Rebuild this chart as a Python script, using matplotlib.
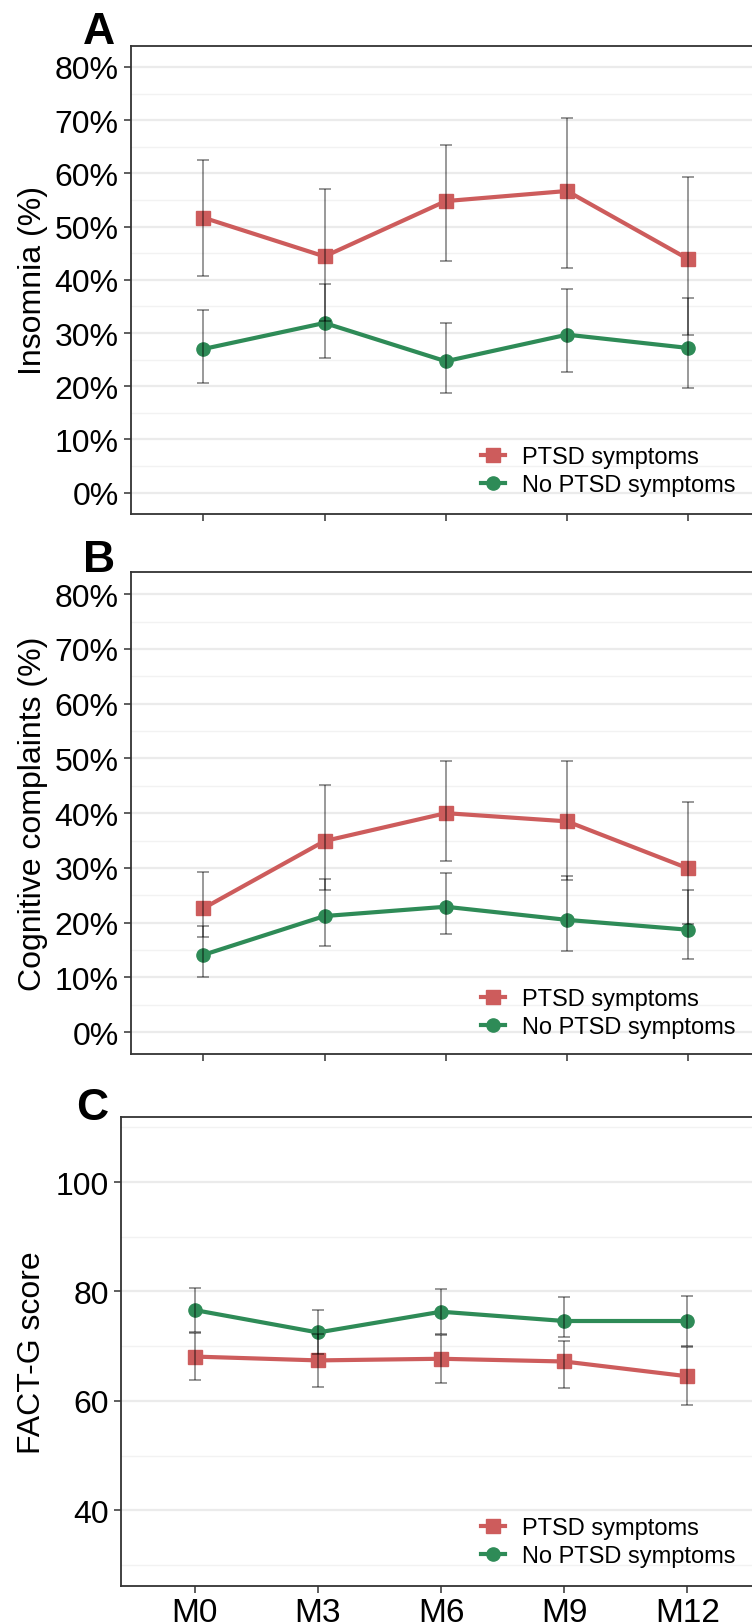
import numpy as np
import matplotlib
matplotlib.use("Agg")
import matplotlib.pyplot as plt
from matplotlib.ticker import MultipleLocator, FuncFormatter

plt.rcParams['font.family'] = ['Liberation Sans', 'DejaVu Sans']

months = ["M0", "M3", "M6", "M9", "M12"]
legend_labels = ["PTSD symptoms", "No PTSD symptoms"]

# A - insomnia (%)
ins_ptsd    = [51.7, 44.4, 54.8, 56.7, 43.9]
ins_ptsd_lo = [40.8, 32.3, 43.6, 42.2, 29.7]
ins_ptsd_hi = [62.6, 57.1, 65.4, 70.4, 59.4]
ins_no      = [27.0, 31.9, 24.7, 29.7, 27.2]
ins_no_lo   = [20.7, 25.3, 18.8, 22.6, 19.6]
ins_no_hi   = [34.3, 39.2, 31.9, 38.2, 36.5]

# B - cognitive complaints (%)
cog_ptsd    = [22.6, 34.9, 40.0, 38.5, 29.9]
cog_ptsd_lo = [17.4, 25.9, 31.2, 27.7, 19.8]
cog_ptsd_hi = [29.3, 45.2, 49.5, 49.5, 42.0]
cog_no      = [14.1, 21.2, 22.9, 20.5, 18.7]
cog_no_lo   = [10.1, 15.7, 17.9, 14.8, 13.3]
cog_no_hi   = [19.4, 28.0, 29.1, 28.5, 26.0]

# C - FACT-G score
fact_ptsd    = [68.1, 67.4, 67.7, 67.2, 64.5]
fact_ptsd_lo = [63.8, 62.6, 63.3, 62.4, 59.2]
fact_ptsd_hi = [72.4, 72.2, 72.1, 71.0, 69.8]
fact_no      = [76.6, 72.5, 76.3, 74.6, 74.6]
fact_no_lo   = [72.6, 68.6, 72.2, 71.7, 70.1]
fact_no_hi   = [80.6, 76.6, 80.4, 79.0, 79.1]

red   = "#CD5C5C"
green = "#2E8B57"
W, H = 752, 1624

fig = plt.figure(figsize=(W/100, H/100), dpi=100)

# axes boxes in pixels: left, top, right, bottom
boxes = [(130.5, 46.7, 761, 515),
         (130.5, 573.3, 761, 1055),
         (120.9, 1117.9, 761.3, 1587.4)]
legend_y = [472, 1014, 1543]
letters  = [("A", 99, 32), ("B", 99, 561), ("C", 92, 1108)]
ylabels  = ["Insomnia (%)", "Cognitive complaints (%)", "FACT-G score"]
ylabel_x = [-0.131, -0.131, -0.115]

panels = [
    (ins_ptsd, ins_ptsd_lo, ins_ptsd_hi, ins_no, ins_no_lo, ins_no_hi),
    (cog_ptsd, cog_ptsd_lo, cog_ptsd_hi, cog_no, cog_no_lo, cog_no_hi),
    (fact_ptsd, fact_ptsd_lo, fact_ptsd_hi, fact_no, fact_no_lo, fact_no_hi),
]

x = np.arange(len(months))

for i, (p, p_lo, p_hi, n, n_lo, n_hi) in enumerate(panels):
    l, t, r, b = boxes[i]
    ax = fig.add_axes([l/W, 1 - b/H, (r - l)/W, (b - t)/H])

    ax.plot(x, p, color=red, lw=3.0, marker="s", ms=9.5, zorder=3, label=legend_labels[0])
    ax.plot(x, n, color=green, lw=3.0, marker="o", ms=9.5, zorder=3, label=legend_labels[1])

    for vals, lo, hi in [(p, p_lo, p_hi), (n, n_lo, n_hi)]:
        vals, lo, hi = np.array(vals), np.array(lo), np.array(hi)
        ax.errorbar(x, vals, yerr=[vals - lo, hi - vals], fmt="none",
                    ecolor="black", alpha=0.4, elinewidth=1.4,
                    capsize=4.3, capthick=1.4, zorder=4)

    ax.set_xlim(-0.6, 4.6)
    ax.set_xticks(x)
    if i < 2:
        ax.set_ylim(-4, 84)
        ax.yaxis.set_major_locator(MultipleLocator(10))
        ax.yaxis.set_minor_locator(MultipleLocator(5))
        ax.yaxis.set_major_formatter(FuncFormatter(lambda v, pos: f"{v:.0f}%"))
        ax.set_xticklabels([])
    else:
        ax.set_ylim(26.1, 111.9)
        ax.yaxis.set_major_locator(MultipleLocator(20))
        ax.yaxis.set_minor_locator(MultipleLocator(10))
        ax.set_xticklabels(months)

    ax.grid(True, axis="y", which="major", color="#EBEBEB", lw=1.6, zorder=0)
    ax.grid(True, axis="y", which="minor", color="#F2F2F2", lw=1.0, zorder=0)
    ax.set_axisbelow(True)
    for s in ax.spines.values():
        s.set_color("#333333")
        s.set_linewidth(1.3)
    ax.tick_params(which="major", length=5, width=1.1, color="#333333",
                   labelsize=23, labelcolor="black", pad=3.5)
    ax.tick_params(axis="x", pad=2.5, labelsize=24)
    ax.tick_params(which="minor", length=0)

    ax.set_ylabel(ylabels[i], fontsize=23)
    ax.yaxis.set_label_coords(ylabel_x[i], 0.5)

    ax.legend(loc="center left", bbox_to_anchor=(481/W, 1 - legend_y[i]/H),
              bbox_transform=fig.transFigure, frameon=False, fontsize=17,
              handlelength=1.0, handletextpad=0.75, labelspacing=0.25,
              borderpad=0, borderaxespad=0)

    name, lx, ly = letters[i]
    fig.text(lx/W, 1 - ly/H, name, fontsize=32, fontweight="bold",
             ha="center", va="center")

plt.savefig("out.png", dpi=100)
